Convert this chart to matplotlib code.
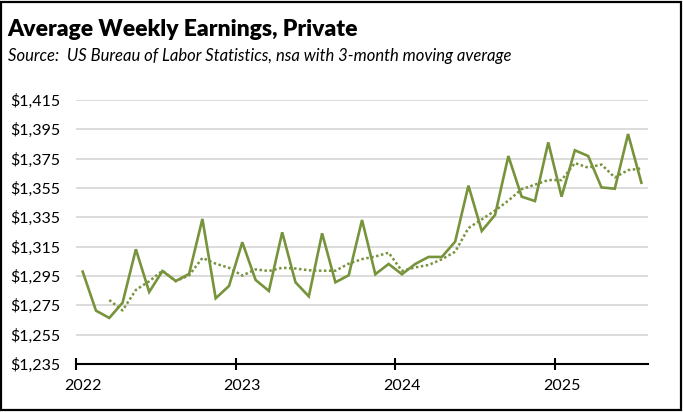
import matplotlib
matplotlib.use("Agg")
import matplotlib.pyplot as plt
from matplotlib.patches import Rectangle

# Monthly values, Jan 2022 .. Jul 2025
earnings = [
    1298.0, 1271.4, 1266.4, 1276.8, 1313.2, 1284.1, 1298.4, 1291.6, 1296.4, 1333.9, 1279.8, 1288.2,
    1318.0, 1292.3, 1284.8, 1324.8, 1290.7, 1281.1, 1324.1, 1290.7, 1295.5, 1333.2, 1296.2, 1303.2,
    1296.2, 1303.2, 1308.0, 1308.0, 1318.4, 1356.6, 1325.7, 1336.6, 1376.8, 1349.1, 1346.1, 1386.1,
    1349.1, 1380.7, 1376.8, 1355.4, 1354.5, 1391.8, 1358.6,
]
# 3-month moving average, starts Mar 2022
moving_avg = [
    1278.6, 1271.5, 1285.5, 1291.4, 1298.6, 1291.4, 1295.5, 1307.3, 1303.4, 1300.6,
    1295.3, 1299.5, 1298.4, 1300.6, 1300.1, 1298.9, 1298.6, 1298.6, 1303.4, 1306.5, 1308.3, 1310.9,
    1298.5, 1300.9, 1302.5, 1306.4, 1311.5, 1327.7, 1333.6, 1339.6, 1346.4, 1354.2, 1357.3, 1360.4,
    1360.4, 1372.0, 1368.9, 1371.0, 1362.2, 1367.2, 1368.3,
]
year_labels = ['2022', '2023', '2024', '2025']
y_ticks = [1235, 1255, 1275, 1295, 1315, 1335, 1355, 1375, 1395, 1415]

LINE_COLOR = '#77933C'
FONT = 'Lato'

fig = plt.figure(figsize=(6.83, 4.12), dpi=100)
ax = fig.add_axes([0.1113, 0.1165, 0.8375, 0.6408])

months = [i + 0.5 for i in range(len(earnings))]
ma_months = [i + 2.5 for i in range(len(moving_avg))]

ax.plot(months, earnings, color=LINE_COLOR, linewidth=1.9, solid_joinstyle='miter', zorder=3)
ax.plot(ma_months, moving_avg, color=LINE_COLOR, linewidth=1.8, linestyle=(0, (1, 1)), zorder=3)

ax.set_xlim(0, 43)
ax.set_ylim(1235, 1415)
ax.set_yticks(y_ticks)
ax.set_yticklabels([f'${v:,}' for v in y_ticks], fontsize=11.5, fontfamily=FONT)
ax.grid(axis='y', color='#D9D9D9', linewidth=1.3)
ax.set_axisbelow(True)

# year ticks at the start of each year, labels under January
ax.set_xticks([0, 12, 24, 36])
ax.set_xticklabels([])
ax.set_xticks([0.5, 12.5, 24.5, 36.5], minor=True)
ax.set_xticklabels(year_labels, minor=True, fontsize=11.5, fontfamily=FONT)
ax.tick_params(axis='x', which='major', direction='inout', length=9, width=1.5, color='black')
ax.tick_params(axis='x', which='minor', length=0, pad=11)
ax.tick_params(axis='y', length=0, pad=11.5)

for side in ['top', 'right', 'left']:
    ax.spines[side].set_visible(False)
ax.spines['bottom'].set_linewidth(1.5)

fig.text(0.011, 0.913, 'Average Weekly Earnings, Private', fontsize=16.5, fontweight='heavy',
         fontfamily=FONT, va='baseline')
fig.text(0.011, 0.852, 'Source:  US Bureau of Labor Statistics, nsa with 3-month moving average',
         fontsize=12, style='italic', fontfamily=FONT, va='baseline')

fig.patches.append(Rectangle((0.002, 0.004), 0.995, 0.992, transform=fig.transFigure,
                             fill=False, edgecolor='black', linewidth=1.6))

fig.savefig('out.png', dpi=100)
